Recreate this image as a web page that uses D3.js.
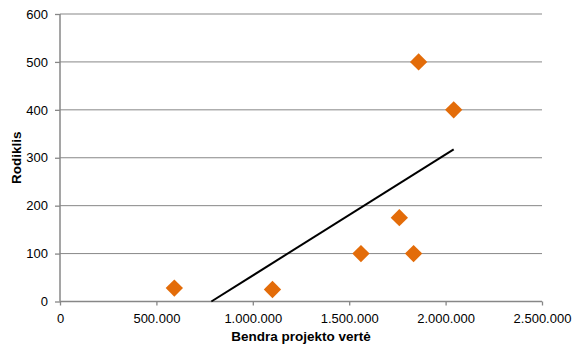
<!DOCTYPE html>
<html><head><meta charset="utf-8">
<script src="https://cdn.jsdelivr.net/npm/d3@7"></script>
<style>body{margin:0;background:#fff}svg{display:block}text{font-family:"Liberation Sans",Arial,sans-serif}</style>
</head><body>
<script>
const projectValues = [593000, 1102000, 1561000, 1760000, 1834000, 1860000, 2042000];
const indicatorValues = [28, 25, 100, 175, 100, 500, 400];
const xTicks = [0, 500000, 1000000, 1500000, 2000000, 2500000];
const yTicks = [0, 100, 200, 300, 400, 500, 600];
const xTitle = "Bendra projekto vertė";
const yTitle = "Rodiklis";

const W = 573, H = 349;
const svg = d3.select("body").append("svg").attr("width", W).attr("height", H);
const x = d3.scaleLinear().domain([0, 2500000]).range([60, 542]);
const y = d3.scaleLinear().domain([0, 600]).range([301.5, 14]);
const fmt = v => v === 0 ? "0" : d3.format(",")(v).replace(/,/g, ".");
const gray = "#878787";

// gridlines
svg.append("g").selectAll("line").data(yTicks.filter(d => d > 0)).join("line")
  .attr("x1", 60).attr("x2", 542).attr("y1", d => y(d)).attr("y2", d => y(d))
  .attr("stroke", gray).attr("stroke-width", 1);

const yAxis = svg.append("g").attr("transform", "translate(60,0)")
  .call(d3.axisLeft(y).tickValues(yTicks).tickSize(5).tickPadding(7).tickFormat(d => d));
const xAxis = svg.append("g").attr("transform", `translate(0,${y(0)})`)
  .call(d3.axisBottom(x).tickValues(xTicks).tickSize(4).tickPadding(8).tickFormat(fmt));
[yAxis, xAxis].forEach(a => {
  a.selectAll("path,line").attr("stroke", gray).attr("stroke-width", 1.3);
  a.select(".domain").attr("d", null);
  a.selectAll("text").attr("font-size", 13).attr("fill", "#000")
    .attr("font-family", "Liberation Sans, Arial, sans-serif");
});
svg.append("line").attr("x1", 60).attr("x2", 60).attr("y1", y(600)).attr("y2", y(0)).attr("stroke", gray).attr("stroke-width", 1.5);
svg.append("line").attr("x1", 60).attr("x2", 542).attr("y1", y(0)).attr("y2", y(0)).attr("stroke", gray).attr("stroke-width", 1.5);

// linear trendline (least squares)
const n = projectValues.length;
const mx = d3.mean(projectValues), my = d3.mean(indicatorValues);
let sxy = 0, sxx = 0;
for (let i = 0; i < n; i++) { sxy += (projectValues[i]-mx)*(indicatorValues[i]-my); sxx += (projectValues[i]-mx)**2; }
const slope = sxy / sxx, icpt = my - slope * mx;
const x0 = Math.max(d3.min(projectValues), -icpt / slope), x1 = d3.max(projectValues);
svg.append("line").attr("x1", x(x0)).attr("y1", y(slope*x0+icpt)).attr("x2", x(x1)).attr("y2", y(slope*x1+icpt))
  .attr("stroke", "#000").attr("stroke-width", 2);

// markers
const sym = d3.symbol().type(d3.symbolSquare).size(150);
svg.append("g").selectAll("path").data(projectValues.map((v, i) => [v, indicatorValues[i]])).join("path")
  .attr("d", sym).attr("transform", d => `translate(${x(d[0])},${y(d[1])}) rotate(45)`)
  .attr("fill", "#E36C09");

svg.append("text").attr("x", 301).attr("y", 341).attr("text-anchor", "middle")
  .attr("font-size", 13.5).attr("font-weight", "bold").text(xTitle);
svg.append("text").attr("transform", `translate(21,${y(300)}) rotate(-90)`).attr("text-anchor", "middle")
  .attr("font-size", 13.5).attr("font-weight", "bold").text(yTitle);
</script>
</body></html>
